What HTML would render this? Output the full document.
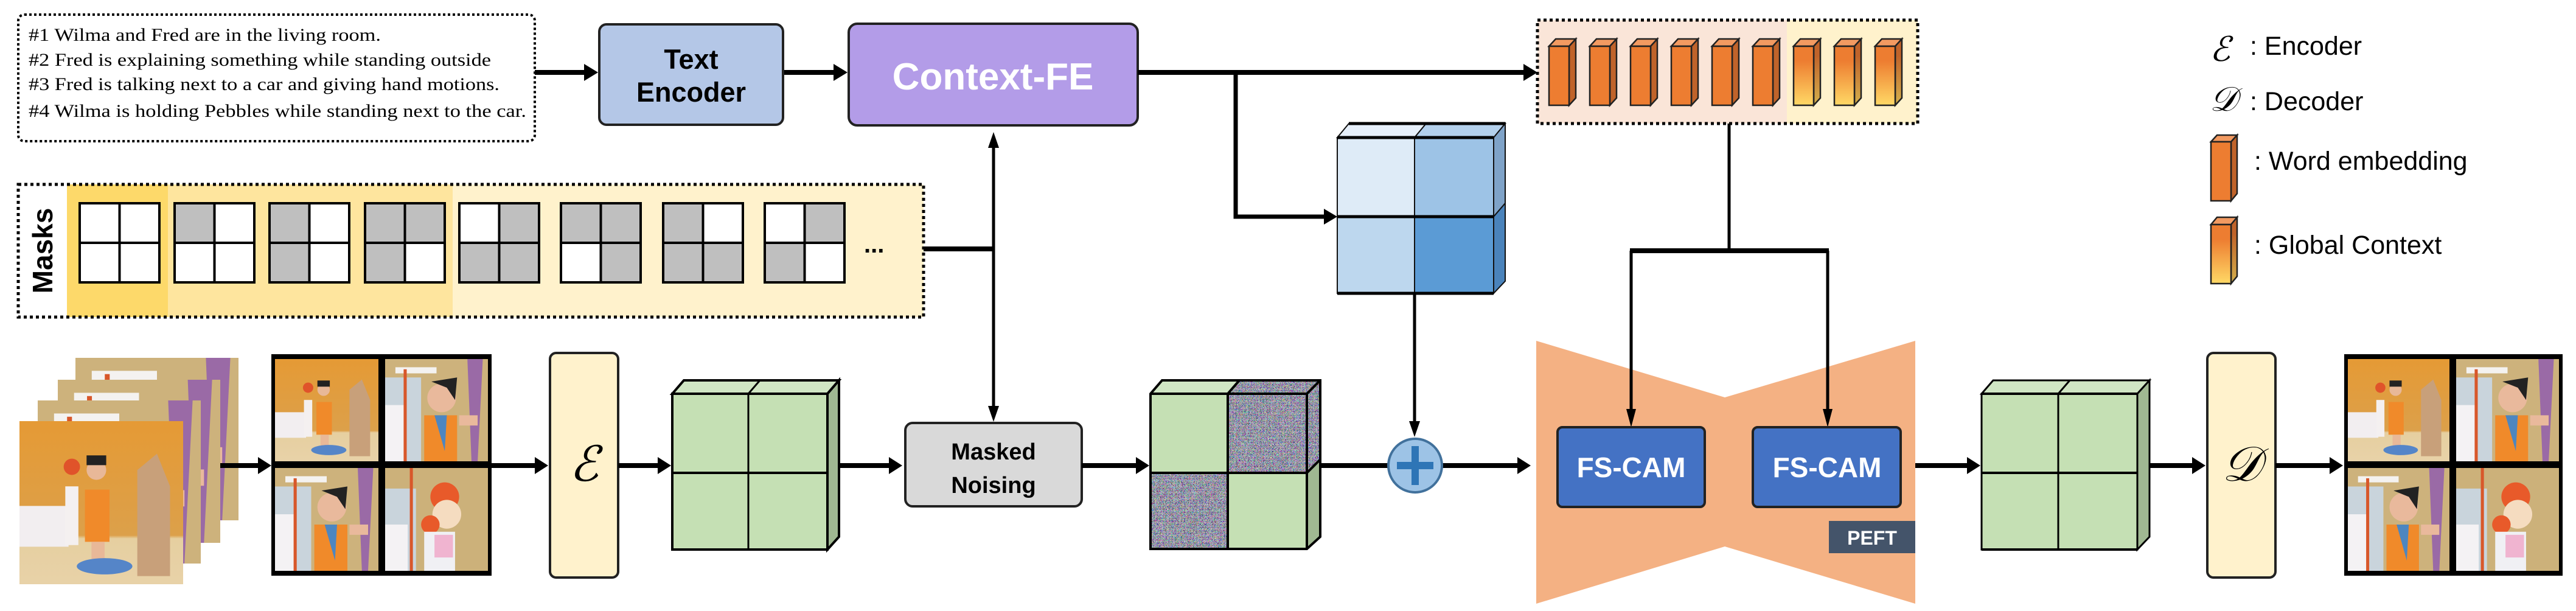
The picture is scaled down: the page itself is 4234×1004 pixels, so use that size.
<!DOCTYPE html>
<html><head><meta charset="utf-8"><style>
html,body{margin:0;padding:0;background:#fff;}
svg{display:block;}
</style></head><body>
<svg xmlns="http://www.w3.org/2000/svg" width="4234" height="1004" viewBox="0 0 4234 1004">
<defs>
<linearGradient id="gc" x1="0" y1="0" x2="0" y2="1"><stop offset="0.25" stop-color="#ed7d31"/><stop offset="1" stop-color="#ffd966"/></linearGradient>
<linearGradient id="gcs" x1="0" y1="0" x2="0" y2="1"><stop offset="0.25" stop-color="#c0632a"/><stop offset="1" stop-color="#d4b04c"/></linearGradient>
<filter id="noise" x="0" y="0" width="100%" height="100%">
<feTurbulence type="turbulence" baseFrequency="1.1" numOctaves="1" seed="3" result="t"/>
<feColorMatrix in="t" type="matrix" values="2.4 0 0 0 0.0  0 2.4 0 0 0.0  0 0 2.4 0 0.05  0 0 0 0 1"/>
</filter>
<clipPath id="ctop"><polygon points="2018,647 2037,625 2170,625 2148,647"/></clipPath>
<clipPath id="cside"><polygon points="2148,647 2170,625 2170,755 2148,777"/></clipPath>
<linearGradient id="wallA" x1="0" y1="0" x2="0" y2="1"><stop offset="0" stop-color="#e59a35"/><stop offset="0.7" stop-color="#dca04a"/><stop offset="0.72" stop-color="#e6cfa0"/><stop offset="1" stop-color="#e8d2a8"/></linearGradient>
<symbol id="sA" viewBox="0 0 100 100" preserveAspectRatio="none">
<rect width="100" height="100" fill="url(#wallA)"/>
<rect x="0" y="52" width="30" height="25" fill="#f2eef0"/>
<path d="M72 95 L72 30 L84 20 L92 40 L92 95Z" fill="#c8a07a"/>
<circle cx="32" cy="28" r="5" fill="#e0532a"/><rect x="28" y="40" width="8" height="36" fill="#f4f0f0"/>
<circle cx="47" cy="30" r="6" fill="#e8b898"/><rect x="41" y="21" width="12" height="6" fill="#222"/>
<rect x="40" y="42" width="15" height="32" fill="#f08a2a"/><rect x="44" y="74" width="8" height="12" fill="#e8b898"/>
<ellipse cx="52" cy="89" rx="17" ry="5" fill="#5585c8"/>
</symbol>
<symbol id="sB" viewBox="0 0 100 100" preserveAspectRatio="none">
<rect width="100" height="100" fill="#cdb27c"/>
<rect x="10" y="8" width="40" height="6" fill="#f4f2f0"/>
<rect x="0" y="18" width="35" height="82" fill="#c9d4dc"/><rect x="0" y="45" width="20" height="55" fill="#f4f2f4"/>
<path d="M80 0 L95 0 L90 100 L84 100Z" fill="#9a6aa6"/>
<rect x="18" y="10" width="3" height="90" fill="#d8572a"/>
<circle cx="55" cy="38" r="14" fill="#e9b99c"/><path d="M45 22 L70 18 L68 40 L60 28Z" fill="#222"/>
<rect x="38" y="55" width="32" height="45" fill="#f08a2a"/><path d="M48 55 L60 55 L58 90Z" fill="#4d86c0"/>
<rect x="72" y="55" width="18" height="10" fill="#e9b99c"/>
</symbol>
<symbol id="sD" viewBox="0 0 100 100" preserveAspectRatio="none">
<rect width="100" height="100" fill="#ccb17a"/>
<rect x="0" y="20" width="30" height="80" fill="#c9d4dc"/><rect x="0" y="55" width="22" height="45" fill="#f4f2f4"/>
<circle cx="58" cy="28" r="14" fill="#e85a2a"/><circle cx="60" cy="45" r="14" fill="#f5dcc0"/>
<circle cx="44" cy="55" r="9" fill="#e85a2a"/><rect x="38" y="62" width="30" height="38" fill="#f0f0f4"/>
<rect x="48" y="65" width="18" height="22" fill="#f0b4d0"/>
<rect x="24" y="0" width="3" height="100" fill="#d8572a"/>
</symbol>
</defs>

<!-- Text box -->
<rect x="30" y="24" width="849" height="208" rx="10" fill="#fff" stroke="#000" stroke-width="4" stroke-dasharray="4 4"/>
<g font-family="Liberation Serif, serif" font-size="30" fill="#000">
<text x="47" y="67" textLength="579" lengthAdjust="spacingAndGlyphs">#1 Wilma and Fred are in the living room.</text>
<text x="47" y="108" textLength="760" lengthAdjust="spacingAndGlyphs">#2 Fred is explaining something while standing outside</text>
<text x="47" y="148" textLength="774" lengthAdjust="spacingAndGlyphs">#3 Fred is talking next to a car and giving hand motions.</text>
<text x="47" y="192" textLength="818" lengthAdjust="spacingAndGlyphs">#4 Wilma is holding Pebbles while standing next to the car.</text>
</g>

<line x1="879" y1="119" x2="962" y2="119" stroke="#000" stroke-width="8"/>
<polygon points="983,119 960,105 960,133" fill="#000"/>
<line x1="1287" y1="119" x2="1372" y2="119" stroke="#000" stroke-width="8"/>
<polygon points="1393,119 1370,105 1370,133" fill="#000"/>

<rect x="985" y="40" width="302" height="165" rx="12" fill="#b4c7e7" stroke="#222" stroke-width="4"/>
<g font-family="Liberation Sans, sans-serif" font-weight="bold" font-size="45" text-anchor="middle" fill="#000">
<text x="1136" y="113">Text</text><text x="1136" y="167">Encoder</text></g>

<rect x="1395" y="39" width="475" height="167" rx="14" fill="#b39ce8" stroke="#222" stroke-width="4"/>
<text x="1632" y="147" font-family="Liberation Sans, sans-serif" font-weight="bold" font-size="62" text-anchor="middle" fill="#fff">Context-FE</text>

<line x1="1870" y1="119" x2="2506" y2="119" stroke="#000" stroke-width="8"/>
<polygon points="2527,119 2504,105 2504,133" fill="#000"/>
<polyline points="2031,119 2031,356 2180,356" fill="none" stroke="#000" stroke-width="7"/>
<polygon points="2198,356 2176,343 2176,369" fill="#000"/>

<rect x="2527" y="33" width="410" height="170" fill="#fae5d8"/>
<rect x="2937" y="33" width="215" height="170" fill="#fff2cc"/>
<rect x="2527" y="33" width="625" height="170" fill="none" stroke="#000" stroke-width="5" stroke-dasharray="5 5"/>
<g stroke="#222" stroke-width="2.5">
<g id="bar">
<polygon points="2546,76 2557,64 2590,64 2579,76" fill="#f29a61"/>
<polygon points="2579,76 2590,64 2590,161 2579,173" fill="#c0632a"/>
<rect x="2546" y="76" width="33" height="97" fill="#ed7d31"/>
</g>
<use href="#bar" x="67"/><use href="#bar" x="134"/><use href="#bar" x="201"/><use href="#bar" x="268"/><use href="#bar" x="335"/>
<g id="gbar" transform="translate(402,0)">
<polygon points="2546,76 2557,64 2590,64 2579,76" fill="#f29a61"/>
<polygon points="2579,76 2590,64 2590,161 2579,173" fill="url(#gcs)"/>
<rect x="2546" y="76" width="33" height="97" fill="url(#gc)"/>
</g>
<use href="#gbar" x="67"/><use href="#gbar" x="134"/>
</g>

<!-- Blue cube -->
<g stroke="#111" stroke-width="2">
<polygon points="2198,226 2217,203 2344,203 2325,226" fill="#e6effa"/>
<polygon points="2325,226 2344,203 2474,203 2455,226" fill="#b3d0ec"/>
<polygon points="2455,226 2474,203 2474,334 2455,356" fill="#7fa3c8"/>
<polygon points="2455,356 2474,334 2474,462 2455,482" fill="#4a83bb"/>
<rect x="2198" y="226" width="127" height="130" fill="#deebf7"/>
<rect x="2325" y="226" width="130" height="130" fill="#9dc3e6"/>
<rect x="2198" y="356" width="127" height="126" fill="#bdd7ee"/>
<rect x="2325" y="356" width="130" height="126" fill="#5b9bd5"/>
</g>
<g stroke="#000" stroke-width="5"><line x1="2217" y1="203" x2="2474" y2="203"/><line x1="2198" y1="226" x2="2455" y2="226"/><line x1="2198" y1="356" x2="2455" y2="356"/><line x1="2198" y1="482" x2="2455" y2="482"/></g>
<line x1="2325" y1="482" x2="2325" y2="695" stroke="#000" stroke-width="5"/>
<polygon points="2325,718 2316,692 2334,692" fill="#000"/>

<g font-family="Liberation Sans, sans-serif" font-size="43" fill="#000">
<text x="3632" y="100" font-family="Liberation Serif, serif" font-style="italic" font-size="56">ℰ</text>
<text x="3698" y="90">: Encoder</text>
<text x="3632" y="182" font-family="Liberation Serif, serif" font-style="italic" font-size="56">𝒟</text>
<text x="3698" y="181">: Decoder</text>
<text x="3705" y="279">: Word embedding</text>
<text x="3705" y="417">: Global Context</text>
</g>
<g stroke="#222" stroke-width="2.5">
<polygon points="3634,233 3644,222 3677,222 3667,233" fill="#f29a61"/>
<polygon points="3667,233 3677,222 3677,318 3667,330" fill="#c0632a"/>
<rect x="3634" y="233" width="33" height="97" fill="#ed7d31"/>
<polygon points="3634,369 3644,357 3677,357 3667,369" fill="#f29a61"/>
<polygon points="3667,369 3677,357 3677,454 3667,466" fill="url(#gcs)"/>
<rect x="3634" y="369" width="33" height="97" fill="url(#gc)"/>
</g>

<!-- Masks -->
<rect x="30" y="303" width="1488" height="218" fill="#fff"/>
<rect x="110" y="303" width="166" height="218" fill="#fdd96a"/>
<rect x="276" y="303" width="468" height="218" fill="#fee59e"/>
<rect x="744" y="303" width="774" height="218" fill="#fff2cc"/>
<rect x="30" y="303" width="1488" height="218" fill="none" stroke="#000" stroke-width="5" stroke-dasharray="5 5"/>
<text transform="translate(86,412) rotate(-90)" font-family="Liberation Sans, sans-serif" font-weight="bold" font-size="46" text-anchor="middle" fill="#000">Masks</text>
<g stroke="#000" stroke-width="4">
<g transform="translate(131,334)"><rect width="131" height="130" fill="#fff"/><line x1="65.5" y1="0" x2="65.5" y2="130"/><line x1="0" y1="65" x2="131" y2="65"/></g>
<g transform="translate(287,334)"><rect width="131" height="130" fill="#fff"/><rect width="65.5" height="65" fill="#bfbfbf"/><rect width="131" height="130" fill="none"/><line x1="65.5" y1="0" x2="65.5" y2="130"/><line x1="0" y1="65" x2="131" y2="65"/></g>
<g transform="translate(443,334)"><rect width="131" height="130" fill="#fff"/><rect width="65.5" height="130" fill="#bfbfbf"/><rect width="131" height="130" fill="none"/><line x1="65.5" y1="0" x2="65.5" y2="130"/><line x1="0" y1="65" x2="131" y2="65"/></g>
<g transform="translate(600,334)"><rect width="131" height="130" fill="#bfbfbf"/><rect x="65.5" y="65" width="65.5" height="65" fill="#fff"/><rect width="131" height="130" fill="none"/><line x1="65.5" y1="0" x2="65.5" y2="130"/><line x1="0" y1="65" x2="131" y2="65"/></g>
<g transform="translate(755,334)"><rect width="131" height="130" fill="#bfbfbf"/><rect width="65.5" height="65" fill="#fff"/><rect width="131" height="130" fill="none"/><line x1="65.5" y1="0" x2="65.5" y2="130"/><line x1="0" y1="65" x2="131" y2="65"/></g>
<g transform="translate(922,334)"><rect width="131" height="130" fill="#bfbfbf"/><rect y="65" width="65.5" height="65" fill="#fff"/><rect width="131" height="130" fill="none"/><line x1="65.5" y1="0" x2="65.5" y2="130"/><line x1="0" y1="65" x2="131" y2="65"/></g>
<g transform="translate(1090,334)"><rect width="131" height="130" fill="#bfbfbf"/><rect x="65.5" width="65.5" height="65" fill="#fff"/><rect width="131" height="130" fill="none"/><line x1="65.5" y1="0" x2="65.5" y2="130"/><line x1="0" y1="65" x2="131" y2="65"/></g>
<g transform="translate(1257,334)"><rect width="131" height="130" fill="#fff"/><rect x="65.5" width="65.5" height="65" fill="#bfbfbf"/><rect y="65" width="65.5" height="65" fill="#bfbfbf"/><rect width="131" height="130" fill="none"/><line x1="65.5" y1="0" x2="65.5" y2="130"/><line x1="0" y1="65" x2="131" y2="65"/></g>
</g>
<text x="1420" y="415" font-family="Liberation Sans, sans-serif" font-weight="bold" font-size="40" fill="#000">...</text>
<line x1="1518" y1="409" x2="1633" y2="409" stroke="#000" stroke-width="8"/>
<line x1="1633" y1="240" x2="1633" y2="670" stroke="#000" stroke-width="5"/>
<polygon points="1633,217 1624,243 1642,243" fill="#000"/>
<polygon points="1633,693 1624,667 1642,667" fill="#000"/>

<use href="#sB" x="124" y="588" width="268" height="267"/>
<use href="#sB" x="95" y="624" width="267" height="268"/>
<use href="#sB" x="62" y="658" width="268" height="268"/>
<use href="#sA" x="32" y="692" width="269" height="268"/>
<line x1="362" y1="765" x2="426" y2="765" stroke="#000" stroke-width="8"/>
<polygon points="446,765 424,751 424,779" fill="#000"/>

<rect x="446" y="582" width="362" height="364" fill="#000"/>
<use href="#sA" x="452" y="590" width="170" height="168"/>
<use href="#sB" x="633" y="590" width="169" height="168"/>
<use href="#sB" x="452" y="769" width="170" height="169"/>
<use href="#sD" x="633" y="769" width="169" height="169"/>
<line x1="808" y1="765" x2="880" y2="765" stroke="#000" stroke-width="8"/>
<polygon points="901,765 879,751 879,779" fill="#000"/>

<rect x="904" y="580" width="112" height="369" rx="10" fill="#fff2cc" stroke="#222" stroke-width="4"/>
<text x="960" y="790" font-family="Liberation Serif, serif" font-style="italic" font-size="80" text-anchor="middle" fill="#000">ℰ</text>
<line x1="1016" y1="765" x2="1082" y2="765" stroke="#000" stroke-width="8"/>
<polygon points="1103,765 1081,751 1081,779" fill="#000"/>

<g stroke="#000" stroke-width="4">
<polygon points="1105,647 1124,625 1379,625 1360,647" fill="#d0e6c4"/>
<polygon points="1360,647 1379,625 1379,882 1360,903" fill="#a0b892"/>
<rect x="1105" y="647" width="255" height="256" fill="#c5e0b4"/>
<line x1="1230" y1="647" x2="1230" y2="903" stroke-width="3"/><line x1="1249" y1="625" x2="1230" y2="647" stroke-width="3"/>
<line x1="1105" y1="777" x2="1360" y2="777"/>
</g>
<line x1="1379" y1="765" x2="1462" y2="765" stroke="#000" stroke-width="8"/>
<polygon points="1483,765 1461,751 1461,779" fill="#000"/>

<rect x="1488" y="695" width="290" height="137" rx="12" fill="#d9d9d9" stroke="#222" stroke-width="4"/>
<g font-family="Liberation Sans, sans-serif" font-weight="bold" font-size="38" text-anchor="middle" fill="#000">
<text x="1633" y="755">Masked</text><text x="1633" y="810">Noising</text></g>
<line x1="1778" y1="765" x2="1868" y2="765" stroke="#000" stroke-width="8"/>
<polygon points="1889,765 1867,751 1867,779" fill="#000"/>

<!-- Noisy cube -->
<polygon points="1891,647 1910,625 2037,625 2018,647" fill="#d0e6c4"/>
<rect x="1891" y="647" width="127" height="130" fill="#c5e0b4"/>
<rect x="2018" y="777" width="130" height="125" fill="#c5e0b4"/>
<polygon points="2148,777 2170,755 2170,882 2148,902" fill="#a0b892"/>
<rect x="2018" y="647" width="130" height="130" fill="#888" filter="url(#noise)"/>
<rect x="1891" y="777" width="127" height="125" fill="#888" filter="url(#noise)"/>
<g clip-path="url(#ctop)"><rect x="2015" y="620" width="160" height="30" fill="#888" filter="url(#noise)"/></g>
<g clip-path="url(#cside)"><rect x="2145" y="620" width="30" height="160" fill="#888" filter="url(#noise)"/></g>
<g stroke="#000" stroke-width="4" fill="none">
<polygon points="1891,647 1910,625 2170,625 2170,882 2148,902 1891,902"/>
<line x1="2018" y1="647" x2="2018" y2="902"/><line x1="1891" y1="777" x2="2148" y2="777"/>
<line x1="1891" y1="647" x2="2148" y2="647"/><line x1="2148" y1="647" x2="2148" y2="902"/><line x1="2148" y1="647" x2="2170" y2="625"/><line x1="2037" y1="625" x2="2018" y2="647"/><line x1="2148" y1="777" x2="2170" y2="755"/>
</g>
<line x1="2170" y1="765" x2="2495" y2="765" stroke="#000" stroke-width="8"/>
<polygon points="2516,765 2494,751 2494,779" fill="#000"/>
<ellipse cx="2326" cy="765" rx="44" ry="44" fill="#9dc3e6" stroke="#41719c" stroke-width="4"/>
<rect x="2296" y="759" width="60" height="12" fill="#2e75b6"/>
<rect x="2320" y="733" width="12" height="64" fill="#2e75b6"/>

<!-- UNet -->
<polygon points="2525,560 2835,653 3148,560 3148,992 2835,898 2525,992" fill="#f4b183"/>
<line x1="2842" y1="203" x2="2842" y2="412" stroke="#000" stroke-width="5"/>
<line x1="2679" y1="412" x2="3006" y2="412" stroke="#000" stroke-width="8"/>
<line x1="2681" y1="412" x2="2681" y2="680" stroke="#000" stroke-width="5"/>
<polygon points="2681,702 2673,672 2689,672" fill="#000"/>
<line x1="3004" y1="412" x2="3004" y2="680" stroke="#000" stroke-width="5"/>
<polygon points="3004,702 2996,672 3012,672" fill="#000"/>
<rect x="2560" y="702" width="242" height="131" rx="8" fill="#4472c4" stroke="#222" stroke-width="4"/>
<rect x="2881" y="702" width="243" height="131" rx="8" fill="#4472c4" stroke="#222" stroke-width="4"/>
<g font-family="Liberation Sans, sans-serif" font-weight="bold" font-size="46" text-anchor="middle" fill="#fff">
<text x="2681" y="784">FS-CAM</text><text x="3003" y="784">FS-CAM</text></g>
<rect x="3006" y="856" width="142" height="53" fill="#44546a"/>
<text x="3077" y="895" font-family="Liberation Sans, sans-serif" font-weight="bold" font-size="32" text-anchor="middle" fill="#fff">PEFT</text>
<line x1="3148" y1="765" x2="3234" y2="765" stroke="#000" stroke-width="8"/>
<polygon points="3255,765 3233,751 3233,779" fill="#000"/>

<g stroke="#000" stroke-width="3">
<polygon points="3257,647 3276,625 3533,625 3513,647" fill="#d0e6c4"/>
<polygon points="3513,647 3533,625 3533,882 3513,903" fill="#a0b892"/>
<rect x="3257" y="647" width="256" height="256" fill="#c5e0b4"/>
<line x1="3383" y1="647" x2="3383" y2="903"/><line x1="3402" y1="625" x2="3383" y2="647"/>
<line x1="3257" y1="777" x2="3513" y2="777" stroke-width="4"/>
<line x1="3257" y1="647" x2="3513" y2="647" stroke-width="4"/>
<line x1="3257" y1="903" x2="3513" y2="903" stroke-width="4"/>
</g>
<line x1="3533" y1="765" x2="3604" y2="765" stroke="#000" stroke-width="8"/>
<polygon points="3625,765 3603,751 3603,779" fill="#000"/>

<rect x="3628" y="580" width="112" height="369" rx="10" fill="#fff2cc" stroke="#222" stroke-width="4"/>
<text x="3684" y="790" font-family="Liberation Serif, serif" font-style="italic" font-size="80" text-anchor="middle" fill="#000">𝒟</text>
<line x1="3740" y1="765" x2="3830" y2="765" stroke="#000" stroke-width="8"/>
<polygon points="3851,765 3829,751 3829,779" fill="#000"/>

<rect x="3853" y="582" width="359" height="364" fill="#000"/>
<use href="#sA" x="3859" y="590" width="167" height="168"/>
<use href="#sB" x="4037" y="590" width="169" height="168"/>
<use href="#sB" x="3859" y="769" width="167" height="169"/>
<use href="#sD" x="4037" y="769" width="169" height="169"/>
</svg>
</body></html>
